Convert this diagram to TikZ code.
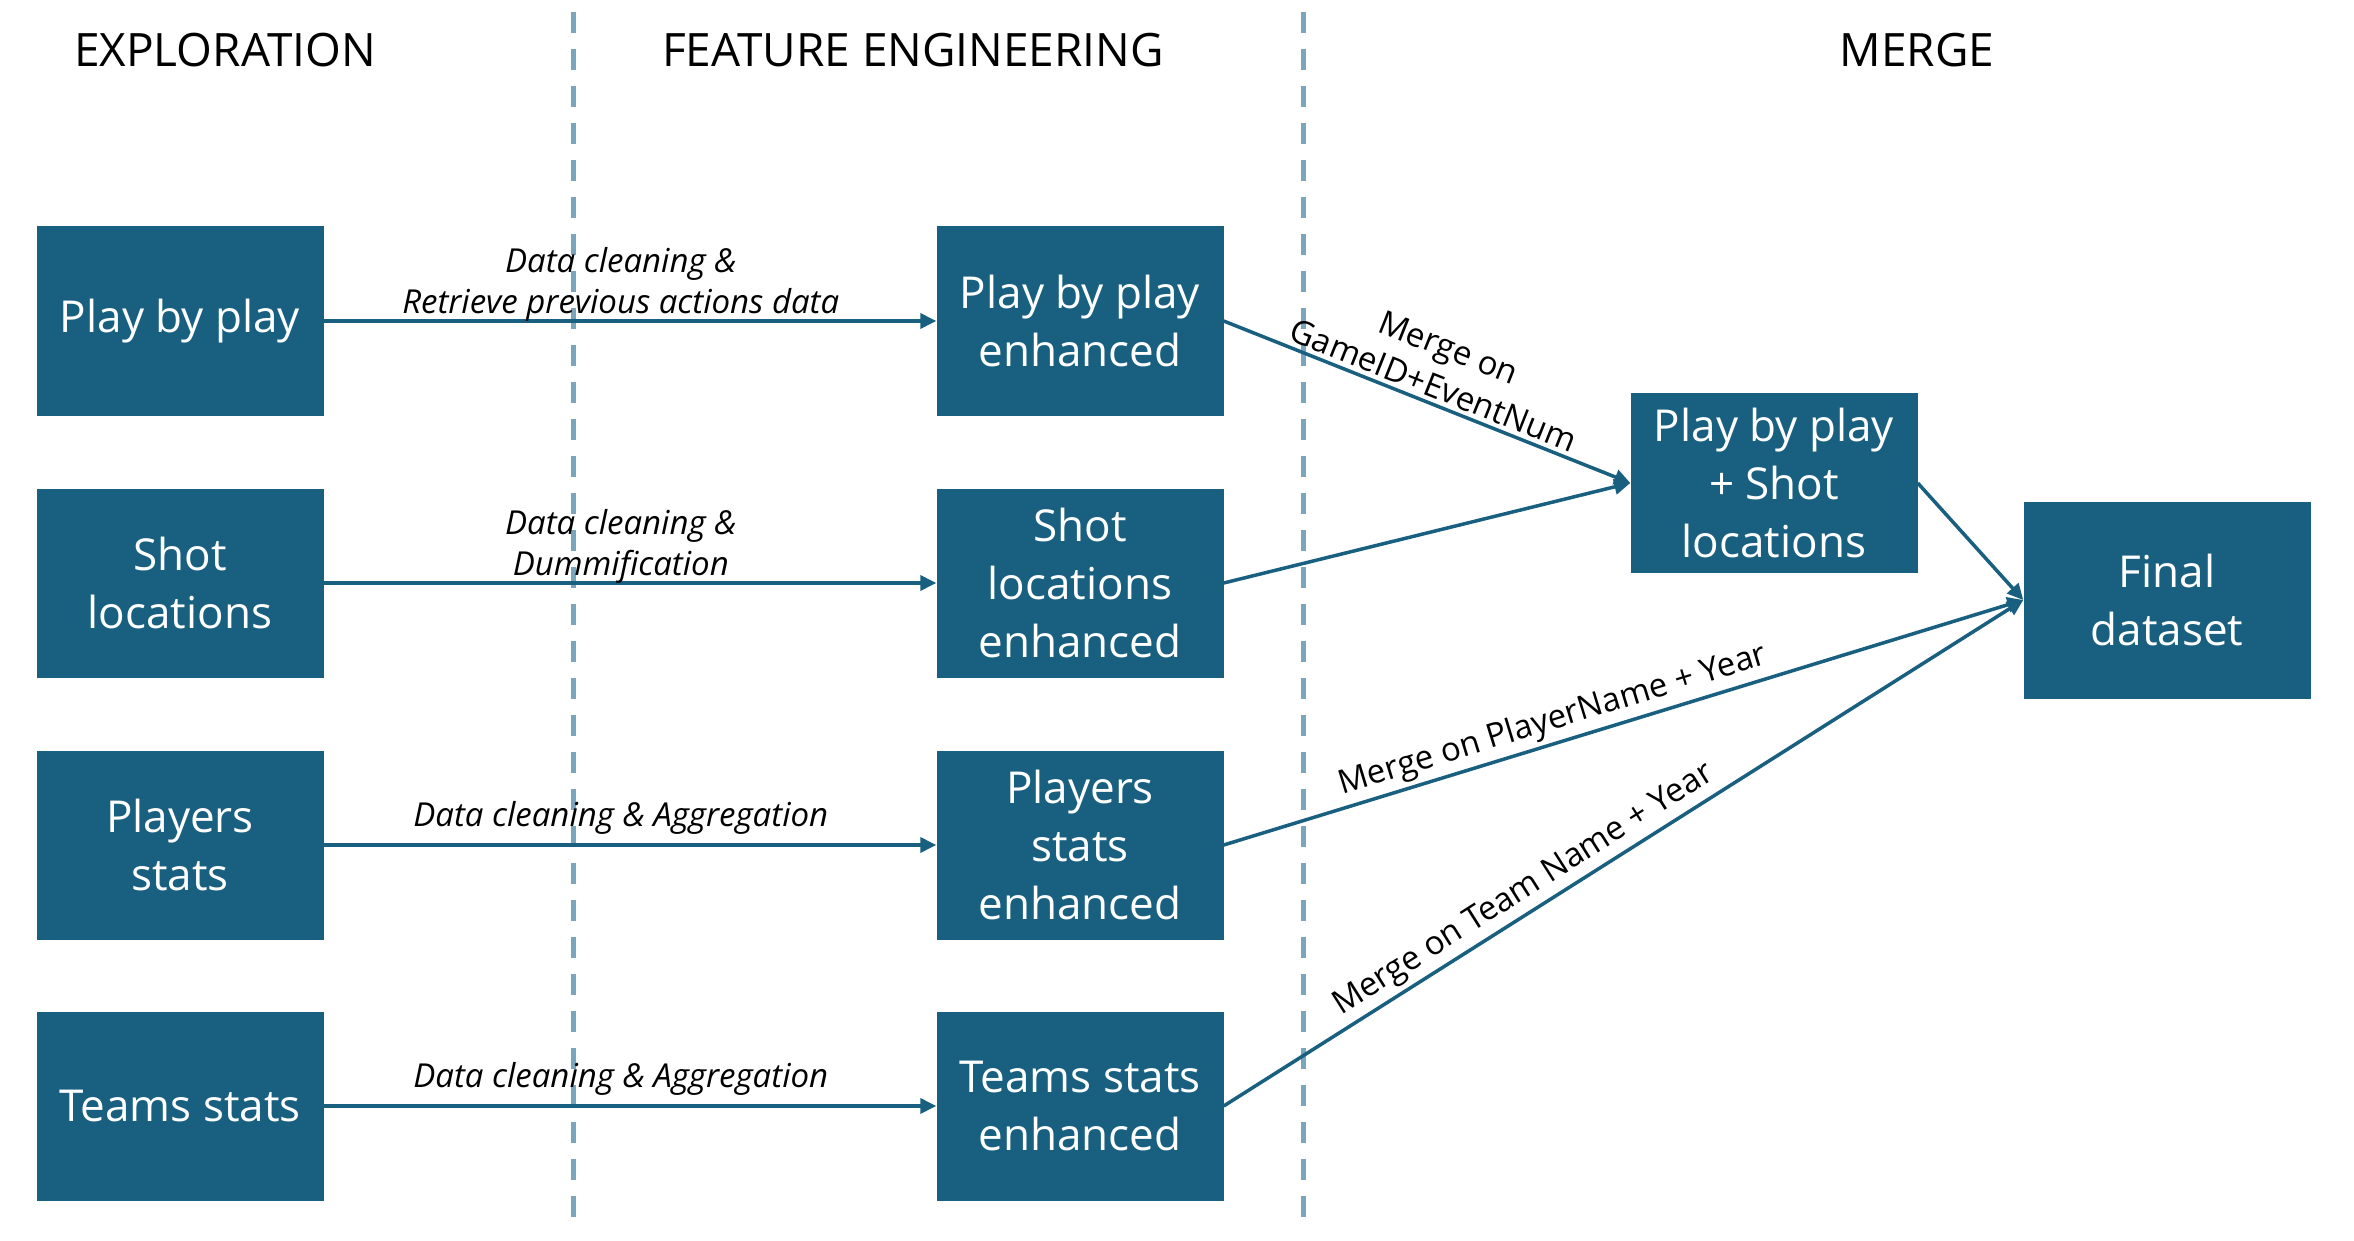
\documentclass[tikz,border=0pt]{standalone}
\usepackage{fontspec}
\setmainfont{Open Sans}
\usetikzlibrary{arrows.meta}
\definecolor{boxblue}{RGB}{24,95,128}
\definecolor{dashblue}{RGB}{122,166,189}
\begin{document}
\begin{tikzpicture}[x=1pt,y=-1pt,
  box/.style={fill=boxblue, text=white, minimum width=287pt, minimum height=189pt, inner sep=0pt, align=center, font=\fontsize{44}{58}\selectfont},
  head/.style={font=\fontsize{46}{54}\selectfont, text=black},
  conn/.style={draw=boxblue, line width=3.5pt, -{Triangle[length=16pt,width=15pt]}},
  lab/.style={font=\fontsize{33}{41}\selectfont\itshape, align=center, inner sep=4pt},
  mlab/.style={font=\fontsize{33}{41}\selectfont, align=center, inner sep=4pt},
  divider/.style={draw=dashblue, line width=5pt, dash pattern=on 21pt off 16pt}]
\path[use as bounding box, fill=white] (0,0) rectangle (2354,1241);
% dividers
\coordinate (d1t) at (573,12); \coordinate (d1b) at (573,1231);
\coordinate (d2t) at (1303,12); \coordinate (d2b) at (1303,1231);
\draw[divider] (d1t) -- (d1b);
\draw[divider] (d2t) -- (d2b);
% headers
\node[head] (h1) at (225,50) {EXPLORATION};
\node[head] (h2) at (913,50) {FEATURE ENGINEERING};
\node[head] (h3) at (1917,50) {MERGE};
% boxes
\node[box] (pbp) at (180,321) {Play by play};
\node[box] (shot) at (180,583) {Shot\\locations};
\node[box] (players) at (180,845) {Players\\stats};
\node[box] (teams) at (180,1106) {Teams stats};
\node[box] (pbpE) at (1080,321) {Play by play\\enhanced};
\node[box] (shotE) at (1080,583) {Shot\\locations\\enhanced};
\node[box] (playersE) at (1080,845) {Players\\stats\\enhanced};
\node[box] (teamsE) at (1080,1106) {Teams stats\\enhanced};
\node[box, minimum height=180pt] (merge) at (1774,483) {Play by play\\+ Shot\\locations};
\node[box, minimum height=197pt] (final) at (2167,600) {Final\\dataset};
% connectors
\draw[conn] (pbp.east) -- node[lab, above, pos=0.485, yshift=-6pt] {Data cleaning \&\\Retrieve previous actions data} (pbpE.west);
\draw[conn] (shot.east) -- node[lab, above, pos=0.485, yshift=-6pt] {Data cleaning \&\\Dummification} (shotE.west);
\draw[conn] (players.east) -- node[lab, above, pos=0.485, yshift=5pt] {Data cleaning \& Aggregation} (playersE.west);
\draw[conn] (teams.east) -- node[lab, above, pos=0.485, yshift=5pt] {Data cleaning \& Aggregation} (teamsE.west);
\draw[conn] (pbpE.east) -- node[mlab, above, sloped, pos=0.5] {Merge on\\GameID+EventNum} (merge.west);
\draw[conn] (shotE.east) -- (merge.west);
\draw[conn] (merge.east) -- (final.west);
\draw[conn] (playersE.east) -- node[mlab, above, sloped, pos=0.42] {Merge on PlayerName + Year} (final.west);
\draw[conn] (teamsE.east) -- node[mlab, above, sloped, pos=0.39] {Merge on Team Name + Year} (final.west);
\end{tikzpicture}
\end{document}
